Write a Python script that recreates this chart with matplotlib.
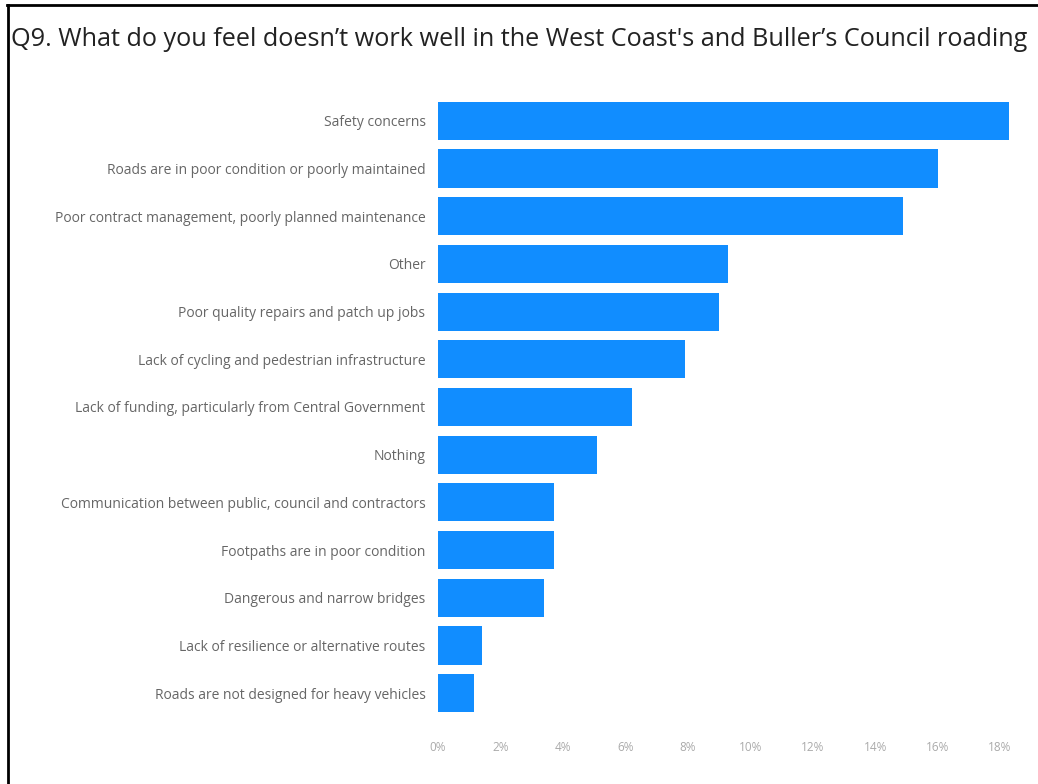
import matplotlib
matplotlib.use("Agg")
import matplotlib.pyplot as plt
from matplotlib.ticker import FuncFormatter
from matplotlib.lines import Line2D

categories = [
    "Safety concerns",
    "Roads are in poor condition or poorly maintained",
    "Poor contract management, poorly planned maintenance",
    "Other",
    "Poor quality repairs and patch up jobs",
    "Lack of cycling and pedestrian infrastructure",
    "Lack of funding, particularly from Central Government",
    "Nothing",
    "Communication between public, council and contractors",
    "Footpaths are in poor condition",
    "Dangerous and narrow bridges",
    "Lack of resilience or alternative routes",
    "Roads are not designed for heavy vehicles",
]
values = [18.3, 16.0, 14.9, 9.3, 9.0, 7.9, 6.2, 5.1, 3.7, 3.7, 3.4, 1.4, 1.15]
x_ticks = [0, 2, 4, 6, 8, 10, 12, 14, 16, 18]
title = "Q9. What do you feel doesn\u2019t work well in the West Coast's and Buller\u2019s Council roading"

plt.rcParams['font.family'] = ['Open Sans', 'DejaVu Sans']

W, H = 1038, 784
fig = plt.figure(figsize=(W / 100, H / 100), dpi=100)
fig.patch.set_facecolor("white")

ax = fig.add_axes([438 / W, 1 - 717 / H, (1015 - 438) / W, (717 - 97) / H])
ypos = list(range(len(categories)))
ax.barh(ypos, values, height=0.8, color="#118DFF")
ax.set_ylim(len(categories) - 0.5, -0.5)
ax.set_xlim(0, 18.48)
ax.set_yticks(ypos)
ax.set_yticklabels(categories, fontsize=10, color="#666666")
ax.set_xticks(x_ticks)
ax.xaxis.set_major_formatter(FuncFormatter(lambda v, p: f"{int(v)}%"))
ax.tick_params(axis="x", length=0, pad=17, labelsize=8.5, labelcolor="#aaaaaa")
ax.tick_params(axis="y", length=0, pad=9)
for s in ax.spines.values():
    s.set_visible(False)

fig.text(11 / W, 1 - 39 / H, title, fontsize=18.2, color="#222222", va="center", ha="left")

# border lines (top and left)
fig.add_artist(Line2D([7 / W, 1], [1 - 5 / H, 1 - 5 / H], color="black", lw=2))
fig.add_artist(Line2D([8 / W, 8 / W], [0, 1 - 5 / H], color="black", lw=2))

fig.savefig("out.png", dpi=100, facecolor="white")
